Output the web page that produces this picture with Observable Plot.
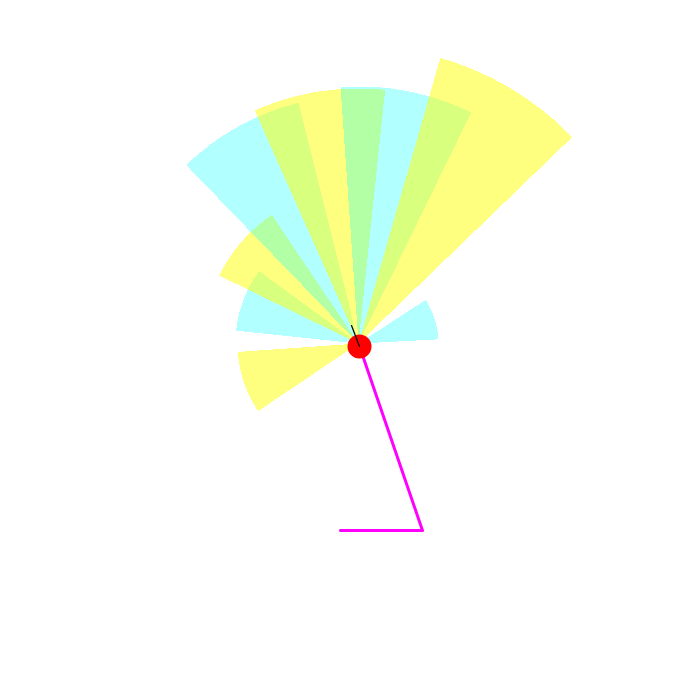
<!DOCTYPE html>
<html>
<head>
<meta charset="utf-8">
<script src="https://cdn.jsdelivr.net/npm/d3@7"></script>
<script src="https://cdn.jsdelivr.net/npm/@observablehq/plot@0.6"></script>
<style>
  html, body { margin: 0; padding: 0; background: #ffffff; }
  #chart svg .wedge path { shape-rendering: crispEdges; }
</style>
</head>
<body>
<div id="chart"></div>
<script>
// Wedges: compass bearings (degrees clockwise from north), radius, colour
const wedgeStart  = [236, 276, 296, 316, 336, 356, 16, 57];
const wedgeEnd    = [266, 306, 326, 346, 366, 386, 46, 87];
const wedgeRadius = [121, 123, 155, 248, 255, 257, 297, 80];
const wedgeColor  = ["yellow", "cyan", "yellow", "cyan", "yellow", "cyan", "yellow", "cyan"];

// Leg polyline (data units, origin at the wedge centre, y up)
const legX = [0, 64, -18];
const legY = [0, -187, -187];

// Short black pointer
const pointerX = [1, -7];
const pointerY = [-3, 18];

// Red hub
const hubX = [1];
const hubY = [-3];

function wedgePoints(start, end, r) {
  const pts = [{x: 0, y: 0}];
  const n = Math.max(2, Math.ceil(end - start));
  for (let k = 0; k <= n; k++) {
    const a = (start + (end - start) * k / n) * Math.PI / 180;
    pts.push({x: r * Math.sin(a), y: r * Math.cos(a)});
  }
  pts.push({x: 0, y: 0});
  return pts;
}

const wedgeMarks = wedgeStart.map((s, i) =>
  Plot.line(wedgePoints(s, wedgeEnd[i], wedgeRadius[i]), {
    x: "x", y: "y",
    fill: wedgeColor[i],
    fillOpacity: wedgeColor[i] === "yellow" ? 0.5 : 0.3,
    stroke: "none",
    className: "wedge"
  })
);

const legData = legX.map((x, i) => ({x, y: legY[i]}));
const pointerData = pointerX.map((x, i) => ({x, y: pointerY[i]}));
const hubData = hubX.map((x, i) => ({x, y: hubY[i]}));

const chart = Plot.plot({
  width: 700,
  height: 700,
  margin: 0,
  x: {domain: [-358, 342], axis: null},
  y: {domain: [-357, 343], axis: null},
  style: {background: "#ffffff"},
  marks: [
    ...wedgeMarks,
    Plot.line(legData, {x: "x", y: "y", stroke: "#ff00ff", strokeWidth: 3}),
    Plot.dot(hubData, {x: "x", y: "y", r: 12, fill: "red", stroke: "none"}),
    Plot.line(pointerData, {x: "x", y: "y", stroke: "black", strokeWidth: 1.2})
  ]
});
document.getElementById("chart").appendChild(chart);
</script>
</body>
</html>
